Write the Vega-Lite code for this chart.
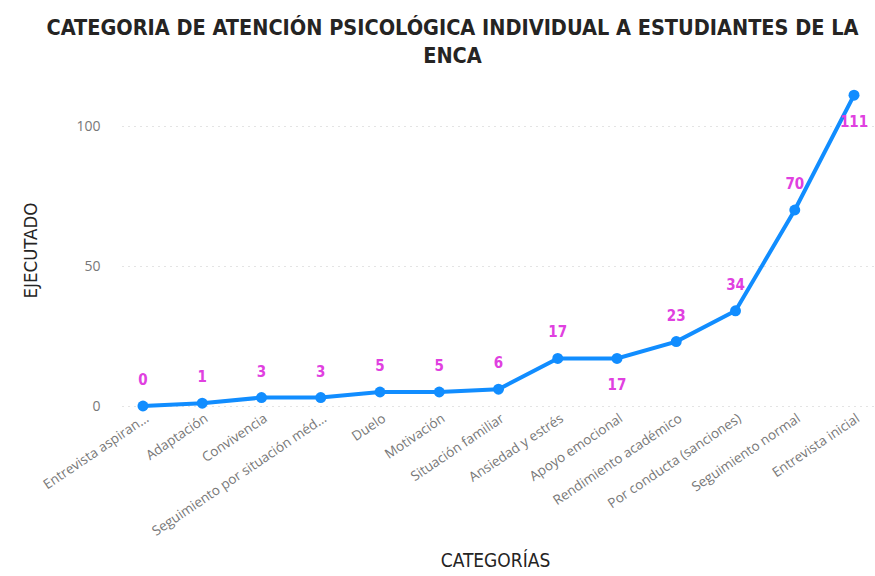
{
  "$schema": "https://vega.github.io/schema/vega-lite/v6.json",
  "width": 753,
  "height": 336,
  "autosize": "none",
  "padding": {"left": 122, "top": 70, "right": 0, "bottom": 170},
  "background": "white",
  "title": {
    "text": ["CATEGORIA DE ATENCIÓN PSICOLÓGICA INDIVIDUAL A ESTUDIANTES DE LA", "ENCA"],
    "font": "DejaVu Sans Condensed",
    "fontWeight": "bold",
    "fontSize": 21.5,
    "lineHeight": 28,
    "color": "#252423",
    "anchor": "middle",
    "frame": "group",
    "dx": -46,
    "offset": 3
  },
  "data": {
    "values": [
      {"categoria": "Entrevista aspirantes", "ejecutado": 0},
      {"categoria": "Adaptación", "ejecutado": 1},
      {"categoria": "Convivencia", "ejecutado": 3},
      {"categoria": "Seguimiento por situación médica", "ejecutado": 3},
      {"categoria": "Duelo", "ejecutado": 5},
      {"categoria": "Motivación", "ejecutado": 5},
      {"categoria": "Situación familiar", "ejecutado": 6},
      {"categoria": "Ansiedad y estrés", "ejecutado": 17},
      {"categoria": "Apoyo emocional", "ejecutado": 17},
      {"categoria": "Rendimiento académico", "ejecutado": 23},
      {"categoria": "Por conducta (sanciones)", "ejecutado": 34},
      {"categoria": "Seguimiento normal", "ejecutado": 70},
      {"categoria": "Entrevista inicial", "ejecutado": 111}
    ]
  },
  "encoding": {
    "x": {
      "field": "categoria",
      "type": "nominal",
      "sort": null,
      "scale": {"type": "point", "padding": 0.354},
      "axis": {
        "title": "CATEGORÍAS",
        "titleFont": "DejaVu Sans Condensed",
        "titleFontSize": 19,
        "titleFontWeight": "normal",
        "titleColor": "#252423",
        "titleY": 154,
        "titleX": 373,
        "titleBaseline": "middle",
        "labelAngle": -34,
        "labelFont": "Open Sans",
        "labelFontSize": 13.5,
        "labelColor": "#777777",
        "labelLimit": 207,
        "labelExpr": "datum.label === 'Entrevista aspirantes' ? 'Entrevista aspiran…' : datum.label",
        "labelPadding": 5,
        "domain": false,
        "ticks": false,
        "grid": false
      }
    },
    "y": {
      "field": "ejecutado",
      "type": "quantitative",
      "scale": {"domain": [0, 120], "nice": false},
      "axis": {
        "title": "EJECUTADO",
        "titleFont": "DejaVu Sans Condensed",
        "titleFontSize": 18.5,
        "titleFontWeight": "normal",
        "titleColor": "#252423",
        "titleX": -92,
        "titleY": 180,
        "titleAngle": -90,
        "titleAlign": "center",
        "titleBaseline": "middle",
        "values": [0, 50, 100],
        "labelFont": "Open Sans",
        "labelFontSize": 14,
        "labelColor": "#777777",
        "labelPadding": 22,
        "domain": false,
        "ticks": false,
        "grid": true,
        "gridColor": "#c8c8c8",
        "gridDash": [1, 5],
        "gridWidth": 1
      }
    }
  },
  "layer": [
    {
      "mark": {"type": "line", "color": "#118DFF", "strokeWidth": 4}
    },
    {
      "mark": {"type": "point", "filled": true, "color": "#118DFF", "size": 120, "opacity": 1}
    },
    {
      "transform": [{"filter": "datum.categoria !== 'Apoyo emocional' && datum.categoria !== 'Entrevista inicial'"}],
      "mark": {"type": "text", "color": "#E040E0", "font": "DejaVu Sans Condensed", "fontWeight": "bold", "fontSize": 15, "dy": -26},
      "encoding": {"text": {"field": "ejecutado", "type": "quantitative"}}
    },
    {
      "transform": [{"filter": "datum.categoria === 'Apoyo emocional' || datum.categoria === 'Entrevista inicial'"}],
      "mark": {"type": "text", "color": "#E040E0", "font": "DejaVu Sans Condensed", "fontWeight": "bold", "fontSize": 15, "dy": 27},
      "encoding": {"text": {"field": "ejecutado", "type": "quantitative"}}
    }
  ],
  "config": {"view": {"stroke": null}}
}
